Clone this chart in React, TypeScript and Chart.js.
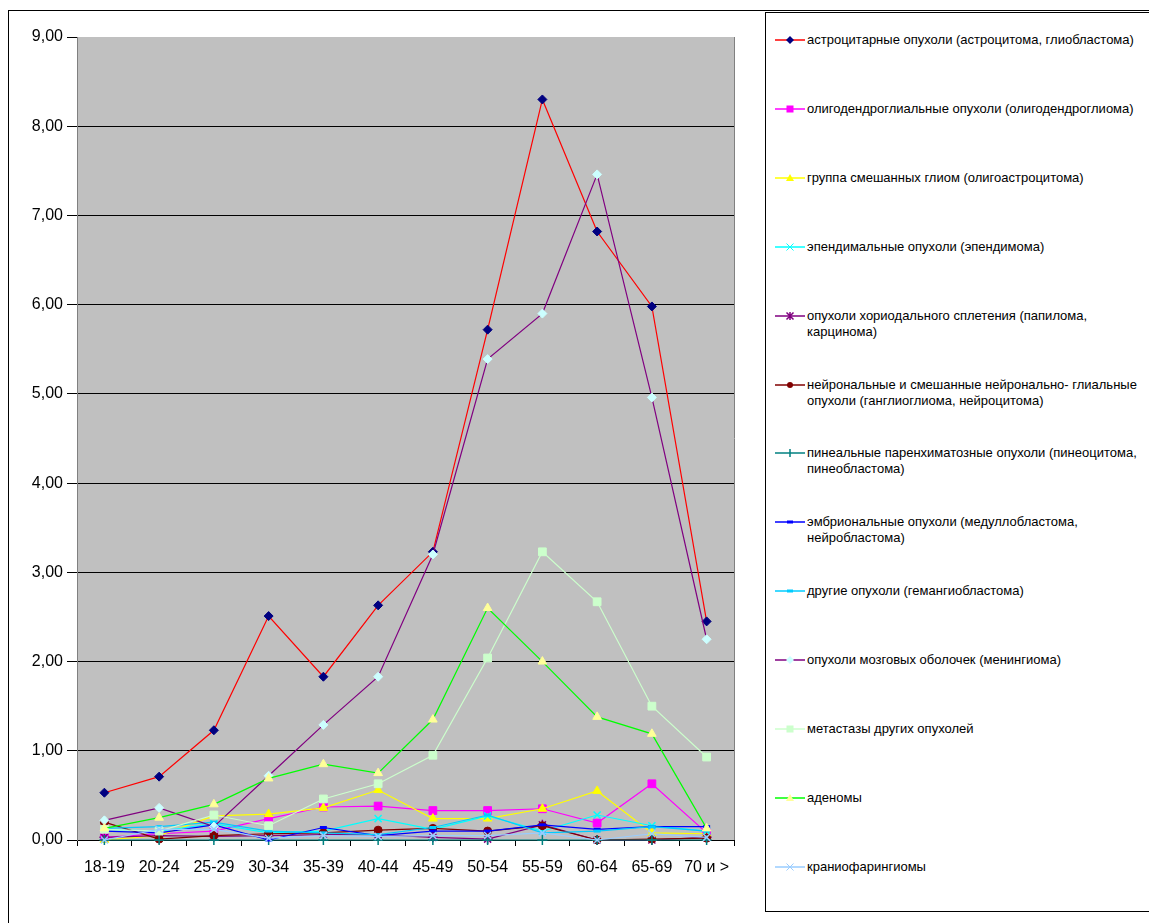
import React, { useEffect, useRef } from "react";
import { Chart, registerables } from "chart.js";

Chart.register(...registerables);

const categories = ["18-19", "20-24", "25-29", "30-34", "35-39", "40-44", "45-49", "50-54", "55-59", "60-64", "65-69", "70 и >"];

const seriesNames = [
  "астроцитарные опухоли (астроцитома, глиобластома)",
  "олигодендроглиальные опухоли (олигодендроглиома)",
  "группа смешанных глиом (олигоастроцитома)",
  "эпендимальные опухоли (эпендимома)",
  "опухоли хориодального сплетения (папилома,\nкарцинома)",
  "нейрональные и смешанные нейронально- глиальные\nопухоли (ганглиоглиома, нейроцитома)",
  "пинеальные паренхиматозные опухоли (пинеоцитома,\nпинеобластома)",
  "эмбриональные опухоли (медуллобластома,\nнейробластома)",
  "другие опухоли (гемангиобластома)",
  "опухоли мозговых оболочек (менингиома)",
  "метастазы других опухолей",
  "аденомы",
  "краниофарингиомы",
];

const astrocytic = [0.53, 0.71, 1.23, 2.51, 1.83, 2.63, 3.23, 5.72, 8.3, 6.82, 5.98, 2.45];
const oligodendroglial = [0.03, 0.07, 0.1, 0.24, 0.37, 0.38, 0.33, 0.33, 0.35, 0.19, 0.63, 0.08];
const mixedGliomas = [0.0, 0.05, 0.27, 0.29, 0.36, 0.56, 0.24, 0.24, 0.35, 0.55, 0.08, 0.07];
const ependymal = [0.12, 0.1, 0.18, 0.08, 0.1, 0.24, 0.12, 0.27, 0.1, 0.28, 0.16, 0.1];
const choroidPlexus = [0.03, 0.05, 0.04, 0.05, 0.06, 0.06, 0.03, 0.01, 0.17, 0.0, 0.0, 0.03];
const neuronal = [0.2, 0.01, 0.05, 0.07, 0.08, 0.11, 0.13, 0.1, 0.16, 0.0, 0.01, 0.02];
const pineal = [0.0, 0.0, 0.0, 0.0, 0.0, 0.0, 0.0, 0.0, 0.0, 0.0, 0.0, 0.0];
const embryonal = [0.1, 0.08, 0.17, 0.0, 0.14, 0.05, 0.1, 0.1, 0.17, 0.12, 0.15, 0.15];
const otherTumors = [0.13, 0.15, 0.2, 0.1, 0.08, 0.06, 0.14, 0.28, 0.08, 0.1, 0.15, 0.1];
const meningioma = [0.22, 0.36, 0.15, 0.72, 1.29, 1.83, 3.2, 5.39, 5.9, 7.46, 4.96, 2.25];
const metastases = [0.12, 0.1, 0.28, 0.16, 0.46, 0.63, 0.95, 2.04, 3.23, 2.67, 1.5, 0.93];
const adenomas = [0.13, 0.25, 0.4, 0.69, 0.85, 0.75, 1.35, 2.6, 2.0, 1.38, 1.19, 0.13];
const craniopharyngioma = [0.0, 0.12, 0.12, 0.02, 0.05, 0.04, 0.05, 0.05, 0.08, 0.0, 0.07, 0.03];

const seriesValues = [
  astrocytic, oligodendroglial, mixedGliomas, ependymal, choroidPlexus, neuronal,
  pineal, embryonal, otherTumors, meningioma, metastases, adenomas, craniopharyngioma,
];

const lineColors = ["#FF0000", "#FF00FF", "#FFFF00", "#00FFFF", "#800080", "#800000", "#008080", "#0000FF", "#00CCFF", "#800080", "#CCFFCC", "#00FF00", "#99CCFF"];
const markerColors = ["#000080", "#FF00FF", "#FFFF00", "#00FFFF", "#800080", "#800000", "#008080", "#0000FF", "#00CCFF", "#CCFFFF", "#CCFFCC", "#FFFF99", "#99CCFF"];
const markerStyles = ["rectRot", "rect", "triangle", "crossRot", "star", "circle", "cross", "line", "line", "rectRot", "rect", "triangle", "crossRot"];
const markerRadius = [4.5, 5.5, 5, 5, 5, 4, 5, 3.5, 3.5, 4.5, 5.5, 5, 5];

const yTicks = [0, 1, 2, 3, 4, 5, 6, 7, 8, 9];

const FONT = "'Liberation Sans', Arial, sans-serif";

const bgPlugin = {
  id: "plotBg",
  beforeDraw(chart: any) {
    const { ctx, chartArea } = chart;
    if (!chartArea) return;
    ctx.save();
    ctx.fillStyle = "#C0C0C0";
    ctx.fillRect(chartArea.left, chartArea.top, chartArea.right - chartArea.left, chartArea.bottom - chartArea.top);
    ctx.strokeStyle = "#808080";
    ctx.lineWidth = 1;
    ctx.beginPath();
    ctx.moveTo(chartArea.right + 0.5, chartArea.top);
    ctx.lineTo(chartArea.right + 0.5, chartArea.bottom);
    ctx.stroke();
    ctx.restore();
  },
};

function LegendMarker({ i }: { i: number }) {
  const c = markerColors[i];
  const s = markerStyles[i];
  const cx = 15, cy = 8;
  let shape: any = null;
  if (s === "rectRot") shape = <polygon points={`${cx},${cy - 4} ${cx + 4},${cy} ${cx},${cy + 4} ${cx - 4},${cy}`} fill={c} />;
  else if (s === "rect") shape = <rect x={cx - 3.5} y={cy - 3.5} width={7} height={7} fill={c} />;
  else if (s === "triangle") shape = <polygon points={`${cx},${cy - 4} ${cx + 4},${cy + 3} ${cx - 4},${cy + 3}`} fill={c} />;
  else if (s === "crossRot") shape = <path d={`M${cx - 3.5},${cy - 3.5}L${cx + 3.5},${cy + 3.5}M${cx + 3.5},${cy - 3.5}L${cx - 3.5},${cy + 3.5}`} stroke={c} strokeWidth={1} />;
  else if (s === "star") shape = <path d={`M${cx - 3.5},${cy - 3.5}L${cx + 3.5},${cy + 3.5}M${cx + 3.5},${cy - 3.5}L${cx - 3.5},${cy + 3.5}M${cx},${cy - 4}L${cx},${cy + 4}`} stroke={c} strokeWidth={1.5} />;
  else if (s === "circle") shape = <circle cx={cx} cy={cy} r={3} fill={c} />;
  else if (s === "cross") shape = <path d={`M${cx},${cy - 4}L${cx},${cy + 4}`} stroke={c} strokeWidth={1.5} />;
  else if (s === "line") shape = <rect x={cx - 3} y={cy - 1.5} width={6} height={3} fill={c} />;
  return (
    <svg width={30} height={16} style={{ position: "absolute", left: 0, top: 0 }}>
      <line x1={0} y1={cy} x2={30} y2={cy} stroke={lineColors[i]} strokeWidth={1.5} />
      {shape}
    </svg>
  );
}

export default function App() {
  const canvasRef = useRef<HTMLCanvasElement | null>(null);

  useEffect(() => {
    const n = seriesValues.length;
    const chart = new Chart(canvasRef.current as HTMLCanvasElement, {
      type: "line",
      data: {
        labels: categories,
        datasets: seriesValues.map((vals, i) => ({
          label: seriesNames[i],
          data: vals,
          borderColor: lineColors[i],
          backgroundColor: markerColors[i],
          pointBackgroundColor: markerColors[i],
          pointBorderColor: markerColors[i],
          pointStyle: markerStyles[i] as any,
          pointRadius: markerRadius[i],
          pointBorderWidth: markerStyles[i] === "line" ? 3 : markerStyles[i] === "crossRot" || markerStyles[i] === "star" || markerStyles[i] === "cross" ? 1.5 : 1,
          borderWidth: 1.2,
          tension: 0,
          fill: false,
          clip: false as any,
          order: n - 1 - i,
        })),
      },
      options: {
        responsive: false,
        animation: false,
        layout: { padding: { top: 37, right: 27, left: 0, bottom: 0 } },
        plugins: { legend: { display: false }, tooltip: { enabled: false } },
        scales: {
          x: {
            type: "category",
            offset: true,
            grid: { display: true, drawOnChartArea: false, drawTicks: true, tickLength: 6, color: "#000000", offset: true },
            border: { display: true, color: "#000000", width: 1 },
            ticks: { color: "#000000", font: { family: FONT, size: 16 }, padding: 12, maxRotation: 0, autoSkip: false },
            afterFit: (scale: any) => { scale.height = 83; },
          },
          y: {
            min: 0,
            max: 9,
            afterBuildTicks: (scale: any) => { scale.ticks = yTicks.map((v) => ({ value: v })); },
            grid: {
              color: (ctx: any) => (ctx.tick && (ctx.tick.value === 0 || ctx.tick.value === 9) ? "rgba(0,0,0,0)" : "#000000"),
              tickColor: "#000000",
              tickLength: 10,
              lineWidth: 1,
            },
            border: { display: true, color: "#808080", width: 1 },
            ticks: {
              color: "#000000",
              font: { family: FONT, size: 16 },
              padding: 4,
              callback: (v: any) => Number(v).toFixed(2).replace(".", ","),
            },
            afterFit: (scale: any) => { scale.width = 77; },
          },
        },
      },
      plugins: [bgPlugin],
    });
    return () => chart.destroy();
  }, []);

  return (
    <div style={{ position: "relative", width: 1149, height: 915 }}>
      <canvas ref={canvasRef} width={761} height={923} style={{ position: "absolute", left: -8, top: -8, width: 761, height: 923 }} />
      <div style={{ position: "absolute", left: 757, top: 4, width: 390, height: 900, border: "1px solid #000", boxSizing: "border-box", background: "#fff" }} />
      {seriesNames.map((name, i) => (
        <div key={i} style={{ position: "absolute", left: 767, top: 40 + i * 68.9 - 8 - 8, height: 40 }}>
          <LegendMarker i={i} />
          <div style={{ position: "absolute", left: 32, top: 0, whiteSpace: "pre", fontFamily: FONT, fontSize: 13, lineHeight: "16px", color: "#000" }}>
            {name}
          </div>
        </div>
      ))}
      <div style={{ position: "absolute", left: -1, top: 2, width: 1149, height: 1, background: "#000", pointerEvents: "none" }} />
      <div style={{ position: "absolute", left: 0, top: 2, width: 1, height: 913, background: "#000", pointerEvents: "none" }} />
    </div>
  );
}
